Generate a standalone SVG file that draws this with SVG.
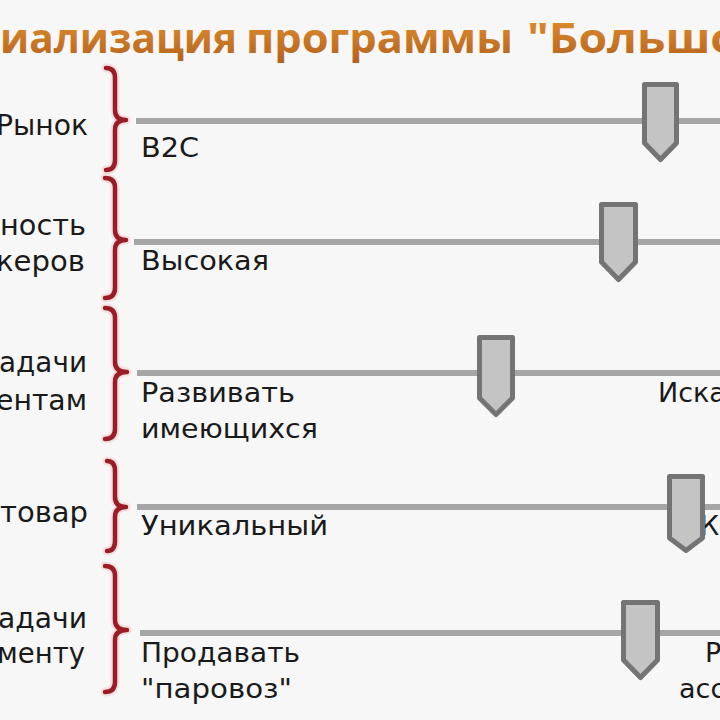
<svg xmlns="http://www.w3.org/2000/svg" width="720" height="720" viewBox="0 0 720 720">
  <defs>
    <linearGradient id="titleGrad" x1="0" y1="0" x2="0" y2="1">
      <stop offset="0" stop-color="#e8962f"/>
      <stop offset="1" stop-color="#b05f1e"/>
    </linearGradient>
    <style>
      .title { font-family: "Open Sans", "Liberation Sans", sans-serif; font-weight: 700; font-size: 41px; fill: url(#titleGrad); }
      .lbl { font-family: "DejaVu Sans", "Liberation Sans", sans-serif; font-size: 27px; fill: #1a1a1a; }
      .big { font-size: 28px; }
      .brace-glow { fill: none; stroke: #f3cfcf; stroke-width: 9; stroke-linecap: round; stroke-linejoin: round; opacity: 0.6; }
      .brace { fill: none; stroke: #9a1c24; stroke-width: 4.5; stroke-linecap: round; stroke-linejoin: round; }
      .track { stroke: #a6a6a6; stroke-width: 6; }
      .thumb { fill: #c4c4c4; stroke: #747474; stroke-width: 5; stroke-linejoin: round; }
    </style>
  </defs>
  <rect width="720" height="720" fill="#f7f7f7"/>

  <g id="title">
    <text class="title" x="0" y="53" textLength="237" lengthAdjust="spacingAndGlyphs">иализация</text>
    <text class="title" x="246" y="53" textLength="267" lengthAdjust="spacingAndGlyphs">программы</text>
    <text class="title" x="527" y="53" textLength="212" lengthAdjust="spacingAndGlyphs">"Большо</text>
  </g>

  <g id="connectors">
    <line class="track" x1="136" y1="121" x2="720" y2="121"/>
    <line class="track" x1="134" y1="242" x2="720" y2="242"/>
    <line class="track" x1="137" y1="373" x2="720" y2="373"/>
    <line class="track" x1="137" y1="507" x2="720" y2="507"/>
    <line class="track" x1="140" y1="633" x2="720" y2="633"/>
  </g>

  <g id="row1">
    <text class="lbl big" x="-4" y="135" textLength="92" lengthAdjust="spacingAndGlyphs">Рынок</text>
    <path class="brace-glow" d="M106,68 Q115,68 115,78 L115,110 Q115,120 126,120 Q115,120 115,130 L115,160 Q115,170 106,170"/>
    <path class="brace" d="M106,68 Q115,68 115,78 L115,110 Q115,120 126,120 Q115,120 115,130 L115,160 Q115,170 106,170"/>
    <text class="lbl" x="141" y="157" textLength="58" lengthAdjust="spacingAndGlyphs">B2C</text>
    <path class="thumb" d="M644.5,84.5 L676.5,84.5 L676.5,143 L660.5,159.5 L644.5,143 Z"/>
  </g>

  <g id="row2">
    <text class="lbl big" x="0" y="235" textLength="86" lengthAdjust="spacingAndGlyphs">ность</text>
    <text class="lbl big" x="-4" y="271" textLength="89" lengthAdjust="spacingAndGlyphs">керов</text>
    <path class="brace-glow" d="M105,178 Q115,178 115,188 L115,230 Q115,240 126,240 Q115,240 115,250 L115,288 Q115,298 105,298"/>
    <path class="brace" d="M105,178 Q115,178 115,188 L115,230 Q115,240 126,240 Q115,240 115,250 L115,288 Q115,298 105,298"/>
    <text class="lbl" x="141" y="270" textLength="128" lengthAdjust="spacingAndGlyphs">Высокая</text>
    <path class="thumb" d="M601.5,204.5 L635.5,204.5 L635.5,262 L618.5,279.5 L601.5,262 Z"/>
  </g>

  <g id="row3">
    <text class="lbl big" x="-1" y="372" textLength="88" lengthAdjust="spacingAndGlyphs">адачи</text>
    <text class="lbl big" x="-4" y="410" textLength="91" lengthAdjust="spacingAndGlyphs">ентам</text>
    <path class="brace-glow" d="M105,308 Q115,308 115,318 L115,362 Q115,372 127,372 Q115,372 115,382 L115,429 Q115,439 105,439"/>
    <path class="brace" d="M105,308 Q115,308 115,318 L115,362 Q115,372 127,372 Q115,372 115,382 L115,429 Q115,439 105,439"/>
    <text class="lbl" x="141" y="402" textLength="154" lengthAdjust="spacingAndGlyphs">Развивать</text>
    <text class="lbl" x="141" y="438" textLength="177" lengthAdjust="spacingAndGlyphs">имеющихся</text>
    <text class="lbl" x="658" y="402">Иска</text>
    <path class="thumb" d="M479.5,337.5 L512.5,337.5 L512.5,398 L496,414.5 L479.5,398 Z"/>
  </g>

  <g id="row4">
    <text class="lbl big" x="0" y="522" textLength="88" lengthAdjust="spacingAndGlyphs">товар</text>
    <path class="brace-glow" d="M107,461 Q115,461 115,471 L115,497 Q115,507 126,507 Q115,507 115,517 L115,541 Q115,551 107,551"/>
    <path class="brace" d="M107,461 Q115,461 115,471 L115,497 Q115,507 126,507 Q115,507 115,517 L115,541 Q115,551 107,551"/>
    <text class="lbl" x="141" y="535" textLength="187" lengthAdjust="spacingAndGlyphs">Уникальный</text>
    <text class="lbl" x="700" y="535">К</text>
    <path class="thumb" d="M669.5,476.5 L702.5,476.5 L702.5,538 L686,550.5 L669.5,538 Z"/>
  </g>

  <g id="row5">
    <text class="lbl big" x="-2" y="628" textLength="89" lengthAdjust="spacingAndGlyphs">адачи</text>
    <text class="lbl big" x="-3" y="663" textLength="88" lengthAdjust="spacingAndGlyphs">менту</text>
    <path class="brace-glow" d="M105,566 Q115,566 115,576 L115,620 Q115,630 127,630 Q115,630 115,640 L115,682 Q115,692 105,692"/>
    <path class="brace" d="M105,566 Q115,566 115,576 L115,620 Q115,630 127,630 Q115,630 115,640 L115,682 Q115,692 105,692"/>
    <text class="lbl" x="141" y="662" textLength="159" lengthAdjust="spacingAndGlyphs">Продавать</text>
    <text class="lbl" x="141" y="698" textLength="151" lengthAdjust="spacingAndGlyphs">"паровоз"</text>
    <text class="lbl" x="705" y="662">Р</text>
    <text class="lbl" x="679" y="698">асс</text>
    <path class="thumb" d="M623.5,602.5 L657.5,602.5 L657.5,660 L640.5,677.5 L623.5,660 Z"/>
  </g>
</svg>
